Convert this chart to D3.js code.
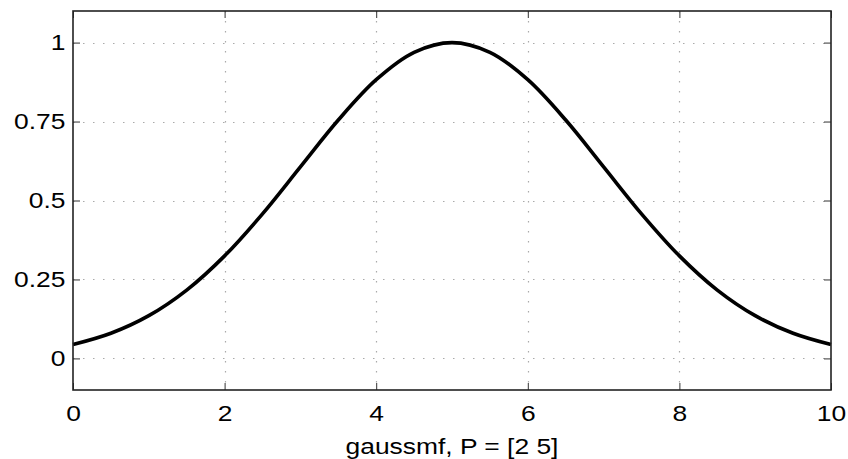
<!DOCTYPE html>
<html>
<head>
<meta charset="utf-8">
<script src="https://cdn.jsdelivr.net/npm/d3@7"></script>
<style>
html,body{margin:0;padding:0;background:#fff;}
svg{display:block;}
text{font-family:"Liberation Sans",Arial,Helvetica,sans-serif;fill:#000;}
</style>
</head>
<body>
<svg id="chart" width="848" height="459"></svg>
<script>
const xValues = [0,0.5,1,1.5,2,2.5,3,3.5,4,4.5,5,5.5,6,6.5,7,7.5,8,8.5,9,9.5,10];
const yValues = [0.0439,0.0796,0.1353,0.2163,0.3247,0.4578,0.6065,0.7548,0.8825,0.9692,1.0,
                 0.9692,0.8825,0.7548,0.6065,0.4578,0.3247,0.2163,0.1353,0.0796,0.0439];
const xTicks = [0,2,4,6,8,10];
const yTicks = [0,0.25,0.5,0.75,1];
const yTickLabels = ["0","0.25","0.5","0.75","1"];
const xLabel = "gaussmf, P = [2 5]";

const svg = d3.select("#chart");
const L = 73, R = 831, T = 11, B = 390;
const x = d3.scaleLinear().domain([0,10]).range([L,R]);
const y = d3.scaleLinear().domain([-0.1,1.1]).range([B,T]);
const fs = 22, sx = 1.2;

// grid
const grid = svg.append("g").attr("stroke","#aaa").attr("stroke-width",1.2).attr("stroke-dasharray","1.5,8.5");
grid.selectAll(".gx").data(xTicks.filter(d=>d>0&&d<10)).enter().append("line")
  .attr("x1",d=>Math.round(x(d))+0.5).attr("x2",d=>Math.round(x(d))+0.5)
  .attr("y1",T).attr("y2",B);
grid.selectAll(".gy").data(yTicks).enter().append("line")
  .attr("y1",d=>Math.round(y(d))+0.5).attr("y2",d=>Math.round(y(d))+0.5)
  .attr("x1",L).attr("x2",R);

// curve
const line = d3.line().x((d,i)=>x(xValues[i])).y(d=>y(d)).curve(d3.curveCatmullRom);
svg.append("path").datum(yValues).attr("d",line)
  .attr("fill","none").attr("stroke","#000").attr("stroke-width",3.6);

// axes (box with inward ticks)
const tl = 7;
const axB = svg.append("g").attr("transform",`translate(0,${B})`)
  .call(d3.axisBottom(x).tickValues(xTicks).tickSize(-tl).tickPadding(15).tickFormat(d3.format("d")));
const axT = svg.append("g").attr("transform",`translate(0,${T})`)
  .call(d3.axisTop(x).tickValues(xTicks).tickSize(-tl).tickFormat(""));
const axL = svg.append("g").attr("transform",`translate(${L},0)`)
  .call(d3.axisLeft(y).tickValues(yTicks).tickSize(-tl).tickPadding(6.3).tickFormat((d,i)=>yTickLabels[i]));
const axRt = svg.append("g").attr("transform",`translate(${R},0)`)
  .call(d3.axisRight(y).tickValues(yTicks).tickSize(-tl).tickFormat(""));
[axB,axT,axL,axRt].forEach(a=>{
  a.select(".domain").remove();
  a.selectAll(".tick line").attr("stroke","#333").attr("stroke-width",1);
  a.selectAll("text").style("font-size",fs+"px").attr("fill","#111")
   .attr("transform",`scale(${sx},1)`)
   .style("font-family",'"Liberation Sans",Arial,Helvetica,sans-serif');
});
svg.append("rect").attr("x",L).attr("y",T).attr("width",R-L).attr("height",B-T)
  .attr("fill","none").attr("stroke","#222").attr("stroke-width",1.6);

svg.append("text").attr("transform",`translate(${(L+R)/2},454) scale(${sx},1)`)
  .attr("text-anchor","middle").style("font-size",fs+"px").attr("fill","#111").text(xLabel);
</script>
</body>
</html>
